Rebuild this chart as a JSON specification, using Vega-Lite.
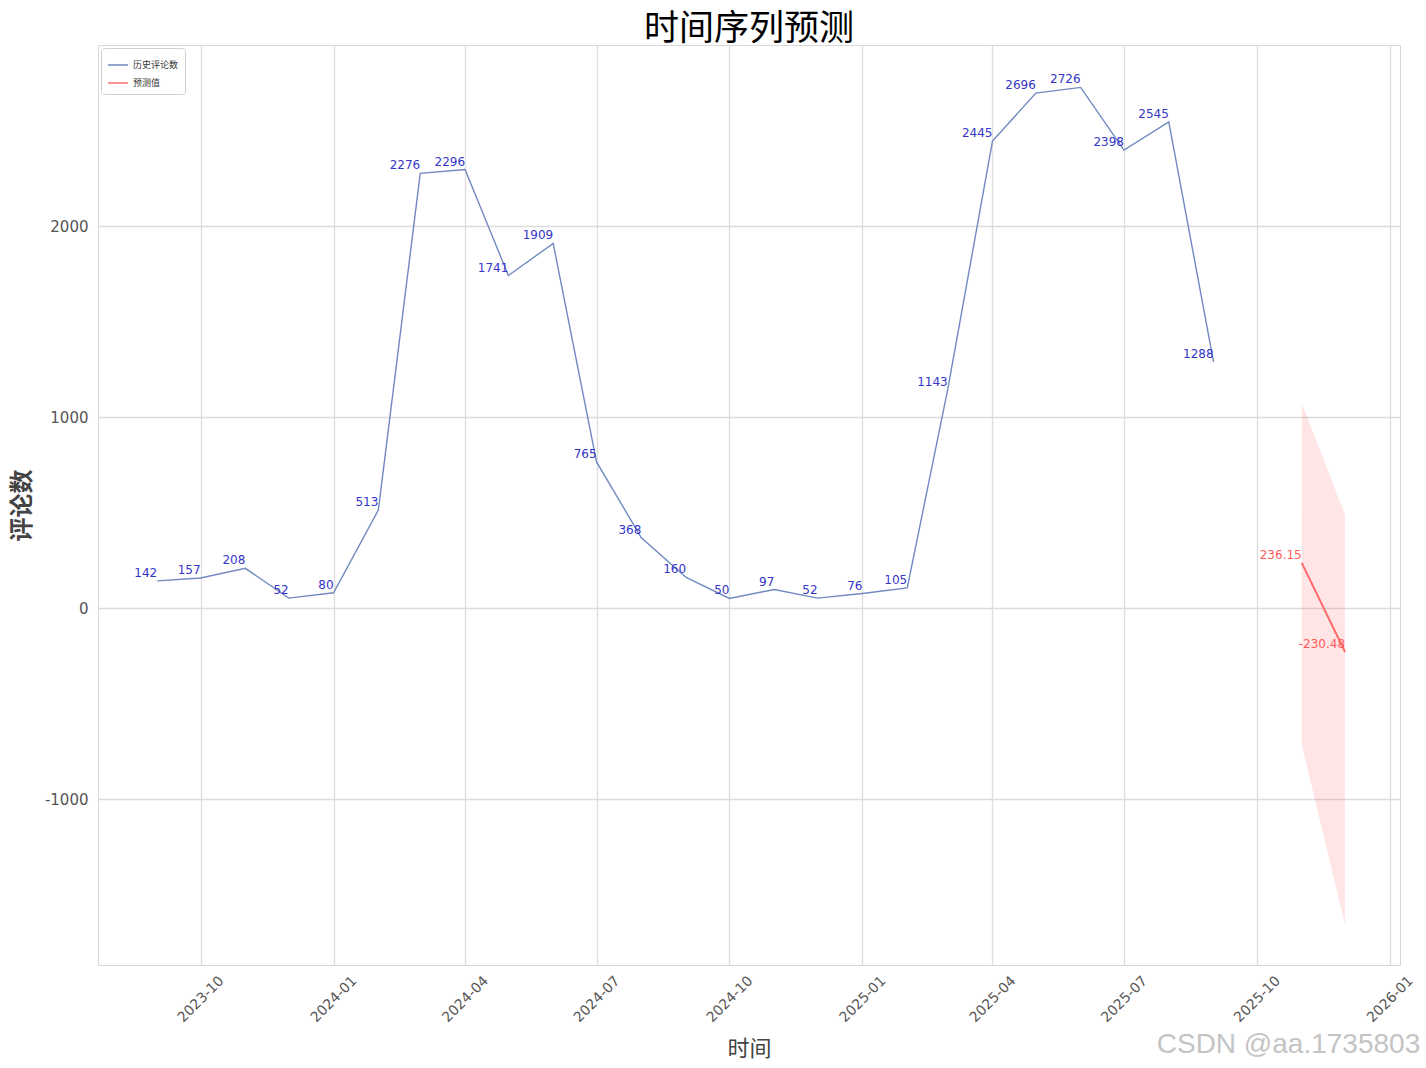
{
  "$schema": "https://vega.github.io/schema/vega-lite/v6.json",
  "width": 1302,
  "height": 920,
  "autosize": {"type": "none"},
  "padding": {"left": 98, "top": 45, "right": 26, "bottom": 103},
  "background": "white",
  "config": {"view": {"stroke": "#d8d8d8", "strokeWidth": 1}, "font": "DejaVu Sans"},
  "title": {"text": "时间序列预测", "font": "Noto Sans CJK SC", "fontSize": 35, "fontWeight": "normal", "color": "#000000", "anchor": "middle", "offset": -2},
  "datasets": {
    "hist": [
      {"date": "2023-09-01", "value": 142},
      {"date": "2023-10-01", "value": 157},
      {"date": "2023-11-01", "value": 208},
      {"date": "2023-12-01", "value": 52},
      {"date": "2024-01-01", "value": 80},
      {"date": "2024-02-01", "value": 513},
      {"date": "2024-03-01", "value": 2276},
      {"date": "2024-04-01", "value": 2296},
      {"date": "2024-05-01", "value": 1741},
      {"date": "2024-06-01", "value": 1909},
      {"date": "2024-07-01", "value": 765},
      {"date": "2024-08-01", "value": 368},
      {"date": "2024-09-01", "value": 160},
      {"date": "2024-10-01", "value": 50},
      {"date": "2024-11-01", "value": 97},
      {"date": "2024-12-01", "value": 52},
      {"date": "2025-01-01", "value": 76},
      {"date": "2025-02-01", "value": 105},
      {"date": "2025-03-01", "value": 1143},
      {"date": "2025-04-01", "value": 2445},
      {"date": "2025-05-01", "value": 2696},
      {"date": "2025-06-01", "value": 2726},
      {"date": "2025-07-01", "value": 2398},
      {"date": "2025-08-01", "value": 2545},
      {"date": "2025-09-01", "value": 1288}
    ],
    "fc": [
      {"date": "2025-11-01", "value": 236.15, "label": "236.15", "lower": -717, "upper": 1073},
      {"date": "2025-12-01", "value": -230.48, "label": "-230.48", "lower": -1660, "upper": 487}
    ],
    "mark": [
      {"date": "2026-01-22", "t": "CSDN @aa.1735803"}
    ]
  },
  "encoding": {
    "x": {
      "field": "date",
      "type": "temporal",
      "title": "时间",
      "scale": {"type": "utc", "domain": [{"year": 2023, "month": 7, "date": 22, "utc": true}, {"year": 2026, "month": 1, "date": 8, "utc": true}]},
      "axis": {
        "format": "%Y-%m",
        "tickCount": {"interval": "month", "step": 3},
        "labelAngle": -45,
        "labelAlign": "center",
        "labelBaseline": "middle",
        "labelPadding": 34,
        "labelDx": -12,
        "labelFontSize": 14,
        "labelColor": "#555555",
        "labelFlush": false,
        "labelOverlap": false,
        "grid": true,
        "gridColor": "#dedede",
        "gridWidth": 1.3,
        "ticks": false,
        "domain": false,
        "titleFontSize": 22,
        "titleFont": "Noto Sans CJK SC",
        "titleFontWeight": "normal",
        "titleColor": "#444444",
        "titlePadding": 14
      }
    }
  },
  "layer": [
    {
      "data": {"name": "fc"},
      "mark": {"type": "area", "color": "#ff0000", "opacity": 0.1},
      "encoding": {
        "y": {
          "field": "upper",
          "type": "quantitative",
          "title": "评论数",
          "scale": {"domain": [-1869, 2948], "nice": false, "zero": false},
          "axis": {
            "values": [-1000, 0, 1000, 2000],
            "labelExpr": "'' + datum.value",
            "labelFontSize": 15,
            "labelColor": "#555555",
            "grid": true,
            "gridColor": "#dcdcdc",
            "gridWidth": 1.5,
            "ticks": false,
            "domain": false,
            "labelPadding": 10,
            "titleFontSize": 24,
            "titleFont": "Noto Sans CJK SC",
            "titleFontWeight": "bold",
            "titleColor": "#444444",
            "titlePadding": 10
          }
        },
        "y2": {"field": "lower"}
      }
    },
    {
      "data": {"name": "hist"},
      "mark": {"type": "line", "strokeWidth": 1.4},
      "encoding": {
        "y": {"field": "value", "type": "quantitative", "title": "评论数"},
        "color": {
          "datum": "历史评论数",
          "type": "nominal",
          "scale": {"domain": ["历史评论数", "预测值"], "range": ["#7189c0", "#ff6b6b"]},
          "legend": {
            "orient": "top-left",
            "offset": 3,
            "title": null,
            "fillColor": "white",
            "strokeColor": "#d0d0d0",
            "padding": 6,
            "cornerRadius": 3,
            "symbolType": "stroke",
            "symbolStrokeWidth": 1.5,
            "symbolSize": 400,
            "labelFontSize": 9,
            "labelFont": "Noto Sans CJK SC",
            "labelColor": "#333333",
            "rowPadding": 2
          }
        }
      }
    },
    {
      "data": {"name": "hist"},
      "mark": {"type": "text", "align": "right", "baseline": "bottom", "dy": -1, "fontSize": 12, "color": "#3535c8"},
      "encoding": {
        "y": {"field": "value", "type": "quantitative", "title": "评论数"},
        "text": {"field": "value", "type": "quantitative", "format": "d"}
      }
    },
    {
      "data": {"name": "fc"},
      "mark": {"type": "line", "strokeWidth": 2},
      "encoding": {
        "y": {"field": "value", "type": "quantitative", "title": "评论数"},
        "color": {"datum": "预测值", "type": "nominal"}
      }
    },
    {
      "data": {"name": "fc"},
      "mark": {"type": "text", "align": "right", "baseline": "bottom", "dy": -1, "fontSize": 12, "color": "#ff5a5a"},
      "encoding": {
        "y": {"field": "value", "type": "quantitative", "title": "评论数"},
        "text": {"field": "label", "type": "nominal"}
      }
    },
    {
      "data": {"name": "mark"},
      "mark": {"type": "text", "align": "right", "baseline": "alphabetic", "fontSize": 28, "font": "Liberation Sans", "color": "#c4c4c4"},
      "encoding": {
        "y": {"datum": -2330, "type": "quantitative"},
        "text": {"field": "t", "type": "nominal"}
      }
    }
  ]
}
